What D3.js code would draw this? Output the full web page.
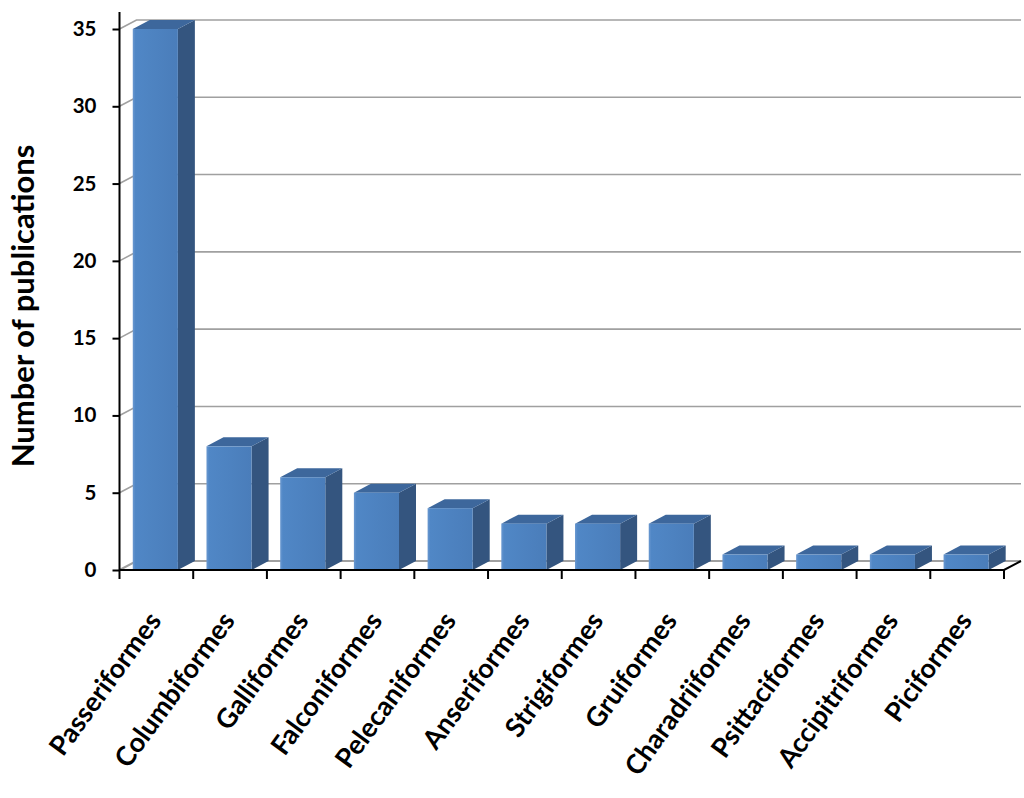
<!DOCTYPE html>
<html>
<head>
<meta charset="utf-8">
<script src="https://cdn.jsdelivr.net/npm/d3@7/dist/d3.min.js"></script>
<style>
  html, body { margin: 0; padding: 0; background: #fff; }
  svg { display: block; }
  text { font-family: Lato, "Open Sans", sans-serif; font-weight: 700; fill: #000; }
</style>
</head>
<body>
<svg id="chart" width="1024" height="798"></svg>
<script>
// ---- data ----
const categories = ["Passeriformes", "Columbiformes", "Galliformes", "Falconiformes",
  "Pelecaniformes", "Anseriformes", "Strigiformes", "Gruiformes",
  "Charadriiformes", "Psittaciformes", "Accipitriformes", "Piciformes"];
const publications = [35, 8, 6, 5, 4, 3, 3, 3, 1, 1, 1, 1];
const yTicks = [0, 5, 10, 15, 20, 25, 30, 35];
const yTitle = "Number of publications";

// ---- layout ----
const svg = d3.select("#chart");
const x0 = 119.5, x1 = 1004, yBase = 570, yTop = 29;
const depthX = 17, depthY = -9;

const x = d3.scaleBand().domain(categories).range([x0, x1]).paddingInner(0).paddingOuter(0);
const y = d3.scaleLinear().domain([0, 35]).range([yBase, yTop]);

const defs = svg.append("defs");
const grad = defs.append("linearGradient").attr("id", "front").attr("x1", "0").attr("x2", "1").attr("y1", "0").attr("y2", "0");
grad.append("stop").attr("offset", "0").attr("stop-color", "#6a98d0");
grad.append("stop").attr("offset", "0.06").attr("stop-color", "#5087c6");
grad.append("stop").attr("offset", "1").attr("stop-color", "#4a7dba");

// gridlines on back wall
const grid = svg.append("g");
yTicks.forEach(t => {
  const yy = y(t);
  grid.append("path")
    .attr("d", `M${x0},${yy}L${x0 + depthX},${yy + depthY}L${x1 + depthX},${yy + depthY}`)
    .attr("fill", "none")
    .attr("stroke", t === 0 ? "#a0a0a0" : "#a0a0a0")
    .attr("stroke-width", t === 0 ? 2 : 1.6);
});

// bars
const bw = x.bandwidth() * 0.612;
const boff = x.bandwidth() * 0.18;
const bars = svg.append("g").selectAll("g").data(categories).join("g");
bars.each(function(c, i) {
  const g = d3.select(this);
  const v = publications[i];
  const l = x(c) + boff, r = l + bw, tp = y(v), bt = y(0);
  // side
  g.append("path")
    .attr("d", `M${r},${bt}L${r + depthX},${bt + depthY}L${r + depthX},${tp + depthY}L${r},${tp}Z`)
    .attr("fill", "#34557f");
  // top
  g.append("path")
    .attr("d", `M${l},${tp}L${l + depthX},${tp + depthY}L${r + depthX},${tp + depthY}L${r},${tp}Z`)
    .attr("fill", "#3d679c");
  // front
  g.append("rect")
    .attr("x", l).attr("y", tp).attr("width", bw).attr("height", bt - tp)
    .attr("fill", "url(#front)");
});

// x axis line + right floor edge
svg.append("path")
  .attr("d", `M${x0},${yBase}L${x1},${yBase}L${x1 + depthX},${yBase + depthY}`)
  .attr("fill", "none").attr("stroke", "#000").attr("stroke-width", 2);

// x ticks at band boundaries
const bounds = categories.map(c => x(c)).concat([x1]);
svg.append("g").selectAll("line").data(bounds).join("line")
  .attr("x1", d => d).attr("x2", d => d)
  .attr("y1", yBase).attr("y2", yBase + 9)
  .attr("stroke", "#000").attr("stroke-width", 2);

// y axis
svg.append("line").attr("x1", x0).attr("x2", x0).attr("y1", 12).attr("y2", yBase + 1)
  .attr("stroke", "#000").attr("stroke-width", 2);
const yAxisG = svg.append("g").attr("transform", `translate(${x0},0)`)
  .call(d3.axisLeft(y).tickValues(yTicks).tickSize(7).tickPadding(16).tickFormat(d3.format("d")));
yAxisG.select(".domain").remove();
yAxisG.selectAll(".tick line").attr("stroke", "#000").attr("stroke-width", 2);
yAxisG.selectAll(".tick text").attr("font-size", 20.5).attr("font-family", "Lato, sans-serif").attr("font-weight", 700).attr("fill", "#000");

// x labels
svg.append("g").selectAll("text").data(categories).join("text")
  .attr("transform", c => `translate(${x(c) + x.bandwidth() / 2 + 6},${621}) rotate(-54)`)
  .attr("text-anchor", "end")
  .attr("font-size", 27)
  .text(c => c);

// y title
svg.append("text")
  .attr("transform", `translate(34,${306}) rotate(-90)`)
  .attr("text-anchor", "middle")
  .attr("font-size", 31)
  .text(yTitle);
</script>
</body>
</html>
